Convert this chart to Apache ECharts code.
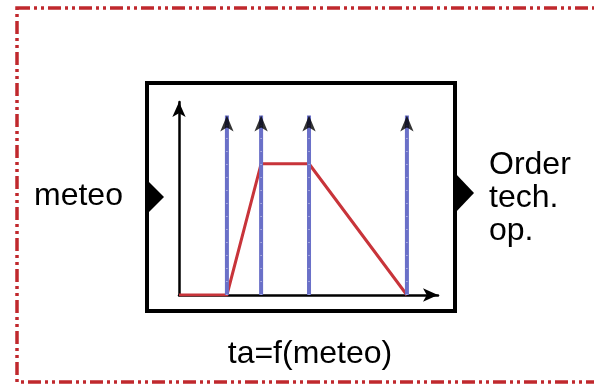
<!DOCTYPE html>
<html>
<head>
<meta charset="utf-8">
<script src="https://cdn.jsdelivr.net/npm/echarts@6/dist/echarts.min.js"></script>
<style>
html,body{margin:0;padding:0;background:#fff;}
#chart{width:594px;height:385px;}
</style>
</head>
<body>
<div id="chart"></div>
<script>
// Data
const xBreaks = [0, 18.5, 31.7, 50.2, 88];
const redValues = [0, 0, 68, 68, 0];
const markerX = [18.5, 31.7, 50.2, 88];
const markerTop = 93;
const inputLabel = 'meteo';
const outputLines = ['Order', 'tech.', 'op.'];
const caption = 'ta=f(meteo)';

const FONT = '"Liberation Sans", Arial, sans-serif';
const BLUE = '#6a70c8';
const RED = '#c8343a';

const chart = echarts.init(document.getElementById('chart'), null, {renderer: 'canvas'});

const series = [];
series.push({
  type: 'line',
  data: xBreaks.map((x, i) => [x, redValues[i]]),
  symbol: 'none',
  lineStyle: {color: RED, width: 3},
  z: 2,
  silent: true
});
markerX.forEach(x => {
  series.push({
    type: 'line',
    data: [[x, 0], [x, markerTop]],
    symbol: 'none',
    lineStyle: {color: BLUE, width: 4},
    z: 3,
    silent: true
  });
  series.push({
    type: 'line',
    data: [[x, 0], [x, markerTop]],
    symbol: 'none',
    lineStyle: {color: '#ffffff', width: 1, type: [1, 12], opacity: 0.7},
    z: 4,
    silent: true
  });
});
series.push({
  type: 'scatter',
  data: markerX.map(x => [x, markerTop]),
  symbol: 'arrow',
  symbolSize: [10, 16],
  itemStyle: {color: '#000'},
  z: 5,
  silent: true
});

const outputGraphics = outputLines.map((t, i) => ({
  type: 'text',
  x: 489,
  y: 165 + i * 33,
  style: {text: t, font: '32px ' + FONT, fill: '#000', textAlign: 'left', verticalAlign: 'middle'}
}));

chart.setOption({
  animation: false,
  grid: {left: 179, right: 156, top: 102, bottom: 90, containLabel: false},
  xAxis: {
    type: 'value', min: 0, max: 100,
    axisLine: {show: true, onZero: false, symbol: ['none', 'arrow'], symbolSize: [10, 15], lineStyle: {color: '#000', width: 2.5}},
    axisTick: {show: false}, axisLabel: {show: false}, splitLine: {show: false}
  },
  yAxis: {
    type: 'value', min: 0, max: 100,
    axisLine: {show: true, onZero: false, symbol: ['none', 'arrow'], symbolSize: [10, 15], lineStyle: {color: '#000', width: 2.5}},
    axisTick: {show: false}, axisLabel: {show: false}, splitLine: {show: false}
  },
  series: series,
  graphic: [
    {
      type: 'rect', shape: {x: 17, y: 8, width: 600, height: 374},
      style: {fill: 'none', stroke: '#c0282d', lineWidth: 3.5, lineDash: [13, 4, 3, 4, 3, 4]},
      silent: true
    },
    {
      type: 'rect', shape: {x: 147, y: 83, width: 308, height: 228},
      style: {fill: 'none', stroke: '#000', lineWidth: 4},
      silent: true
    },
    {
      type: 'polygon', shape: {points: [[145, 178], [164, 197], [145, 216]]},
      style: {fill: '#000'}, silent: true
    },
    {
      type: 'polygon', shape: {points: [[455, 173], [474, 193], [455, 213]]},
      style: {fill: '#000'}, silent: true
    },
    {
      type: 'text', x: 34, y: 196,
      style: {text: inputLabel, font: '32px ' + FONT, fill: '#000', textAlign: 'left', verticalAlign: 'middle'}
    },
    {
      type: 'text', x: 310, y: 354,
      style: {text: caption, font: '32px ' + FONT, fill: '#000', textAlign: 'center', verticalAlign: 'middle'}
    }
  ].concat(outputGraphics)
});
</script>
</body>
</html>
